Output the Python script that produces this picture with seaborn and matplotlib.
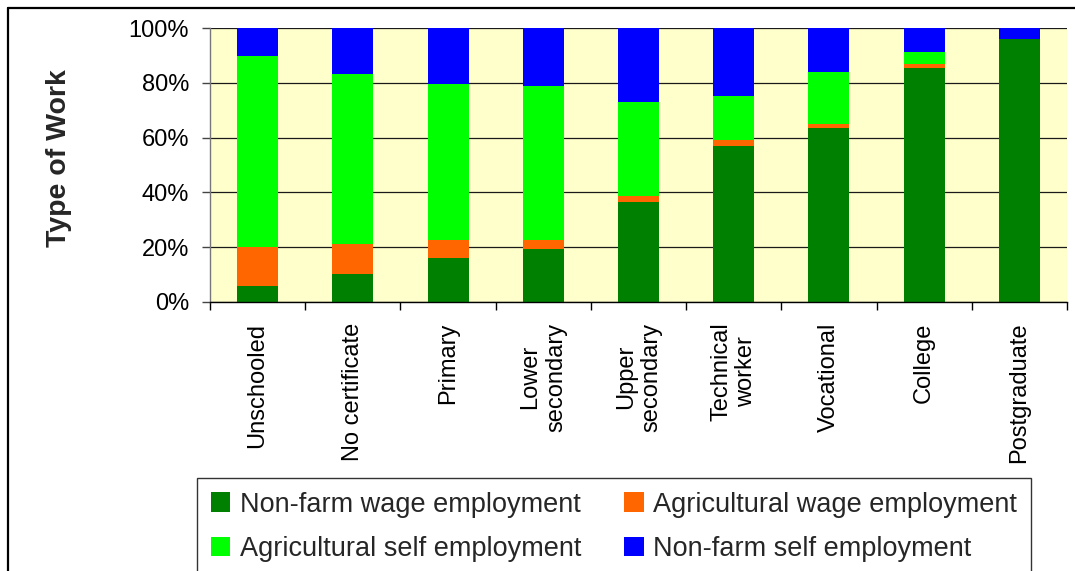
import numpy as np
import pandas as pd
import matplotlib
matplotlib.use("Agg")
import matplotlib.pyplot as plt
from matplotlib.lines import Line2D
from matplotlib.ticker import FixedLocator, FuncFormatter
import seaborn as sns

# Share of workers (%) by type of work, for each education level
levels = ["Unschooled", "No certificate", "Primary", "Lower\nsecondary",
          "Upper\nsecondary", "Technical\nworker", "Vocational", "College",
          "Postgraduate"]
nonfarm_wage = [5.7, 10.1, 16.1, 19.4, 36.4, 56.9, 63.5, 85.6, 96.2]
agri_wage = [14.4, 11.1, 6.5, 3.2, 2.4, 2.2, 1.5, 1.5, 0.0]
agri_self = [69.8, 62.1, 57.1, 56.2, 34.1, 16.1, 18.9, 4.2, 0.0]
nonfarm_self = [10.1, 16.7, 20.3, 21.2, 27.1, 24.8, 16.1, 8.7, 3.8]

series_names = ["Non-farm wage employment", "Agricultural wage employment",
                "Agricultural self employment", "Non-farm self employment"]
series_colors = ["#008000", "#FF6600", "#00FF00", "#0000FF"]

df = pd.DataFrame({
    "level": levels,
    series_names[0]: nonfarm_wage,
    series_names[1]: agri_wage,
    series_names[2]: agri_self,
    series_names[3]: nonfarm_self,
})

sns.set_theme(style="white")
plt.rcParams["font.family"] = ["Liberation Sans", "DejaVu Sans"]

W, H = 1075, 571
fig = plt.figure(figsize=(W / 100, H / 100), dpi=100)
fig.patch.set_facecolor("white")
ax = fig.add_axes([210 / W, 1 - 301.7 / H, (1067 - 210) / W, (301.7 - 28.3) / H])
ax.set_facecolor("#FFFFCC")

bottom = np.zeros(len(levels))
for name, color in zip(series_names, series_colors):
    vals = df[name].to_numpy()
    sns.barplot(data=df, x="level", y=name, order=levels, color=color,
                bottom=bottom.copy(), width=0.43, errorbar=None,
                saturation=1, linewidth=0, label=name, ax=ax)
    bottom += vals

ax.set_xlim(-0.5, len(levels) - 0.5)
ax.set_ylim(0, 100)
ax.set_yticks(np.arange(0, 101, 20))
ax.yaxis.set_major_formatter(FuncFormatter(lambda v, _: f"{v:.0f}%"))
ax.yaxis.grid(True, color="#1a1a1a", linewidth=0.9)
ax.set_axisbelow(True)

# category labels at bar centres, tick marks at category boundaries
ax.set_xticks(range(len(levels)))
ax.set_xticklabels(levels, rotation=90, ha="center", va="top",
                   multialignment="center")
ax.xaxis.set_minor_locator(FixedLocator(np.arange(-0.5, len(levels), 1.0)))
ax.tick_params(axis="x", which="major", length=0, pad=15, labelsize=17,
               colors="black")
ax.tick_params(axis="x", which="minor", length=6, width=1, color="black",
               bottom=True, direction="out")
ax.tick_params(axis="y", which="major", length=6, width=1, color="#444444",
               left=True, direction="out", pad=9, labelsize=17,
               labelcolor="black")

ax.set_xlabel("")
ax.set_ylabel("Type of Work", fontsize=20.5, fontweight="bold")
ax.yaxis.set_label_coords(-0.161, 0.5256)

for side in ["top", "right"]:
    ax.spines[side].set_visible(False)
ax.spines["left"].set_color("#777777")
ax.spines["left"].set_linewidth(1.0)
ax.spines["bottom"].set_color("black")
ax.spines["bottom"].set_linewidth(1.0)

handles, labels = ax.get_legend_handles_labels()
lookup = dict(zip(labels, handles))
order = [series_names[0], series_names[2], series_names[1], series_names[3]]
leg = ax.legend([lookup[n] for n in order], order, ncol=2,
                loc="upper left", bbox_to_anchor=(197 / W, 1 - 478 / H),
                bbox_transform=fig.transFigure, borderaxespad=0,
                fontsize=19.5, frameon=True, fancybox=False, shadow=False,
                handlelength=0.72, handleheight=0.72, handletextpad=0.35,
                columnspacing=1.6, labelspacing=0.67, borderpad=0.5)
leg.get_frame().set_edgecolor("black")
leg.get_frame().set_linewidth(1.0)
leg.get_frame().set_facecolor("white")

# chart-area frame (left and top edges)
fig.add_artist(Line2D([7.5 / W, 7.5 / W], [0, 1 - 8 / H], transform=fig.transFigure,
                      color="black", linewidth=1.6))
fig.add_artist(Line2D([7.5 / W, 1], [1 - 8 / H, 1 - 8 / H], transform=fig.transFigure,
                      color="black", linewidth=1.6))

fig.savefig("out.png", dpi=100)
